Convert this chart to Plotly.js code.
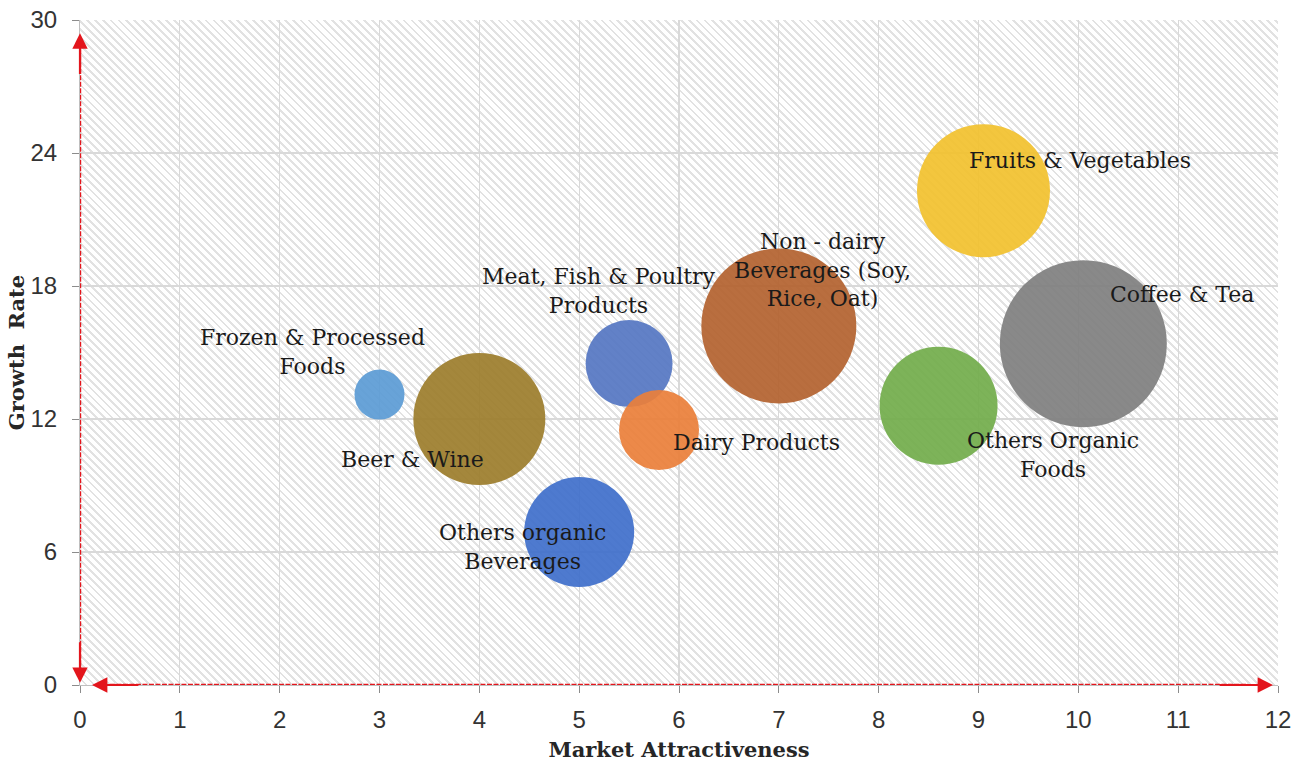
<!DOCTYPE html>
<html>
<head>
<meta charset="utf-8">
<script src="https://cdn.plot.ly/plotly-3.0.1.min.js"></script>
<style>
  html, body { margin: 0; padding: 0; background: #ffffff; }
  #wrap { position: relative; width: 1307px; height: 768px; }
  #hatch {
    position: absolute; left: 80px; top: 20px; width: 1198px; height: 665px;
    background: repeating-linear-gradient(45deg, #ffffff 0px, #ffffff 3.6px, #e2e2e2 3.6px, #e2e2e2 5.6px);
  }
  #chart { position: absolute; left: 0; top: 0; width: 1307px; height: 768px; }
</style>
</head>
<body>
<div id="wrap"><div id="hatch"></div><div id="chart"></div></div>
<script>
// ---- data ----
const categories = [
  "Frozen & Processed<br>Foods",
  "Beer & Wine",
  "Meat, Fish & Poultry<br>Products",
  "Dairy Products",
  "Others organic<br>Beverages",
  "Non - dairy<br>Beverages (Soy,<br>Rice, Oat)",
  "Fruits & Vegetables",
  "Coffee & Tea",
  "Others Organic<br>Foods"
];
const marketAttractiveness = [3.0, 4.0, 5.5, 5.8, 5.0, 7.0, 9.05, 10.05, 8.6];
const growthRate = [13.1, 12.0, 14.5, 11.5, 6.9, 16.2, 22.3, 15.4, 12.6];
const marketSize = [50, 132, 87, 80, 110, 155, 133, 167, 118];
const xTicks = [0, 1, 2, 3, 4, 5, 6, 7, 8, 9, 10, 11, 12];
const yTicks = [0, 6, 12, 18, 24, 30];

// ---- styles ----
const colors = ["#5B9BD5", "#9C7D2B", "#5576C2", "#EA7F3A", "#3F6FCB",
                "#B3622F", "#F2C12E", "#7F7F7F", "#72AC4B"];
const labelShift = [[-67, 43], [-67, -40], [-30, 73], [97, -12], [-57, -15],
                    [44, 56], [97, 30], [99, 49], [114, -49]];

const serif = "DejaVu Serif, serif";

const trace = {
  type: "scatter",
  mode: "markers",
  x: marketAttractiveness,
  y: growthRate,
  text: categories,
  hoverinfo: "text",
  marker: {
    size: marketSize,
    sizemode: "diameter",
    sizeref: 1,
    color: colors,
    opacity: 0.92,
    line: { width: 0 }
  },
  showlegend: false
};

const annotations = categories.map((c, i) => ({
  x: marketAttractiveness[i],
  y: growthRate[i],
  xref: "x", yref: "y",
  text: c,
  showarrow: false,
  xshift: labelShift[i][0],
  yshift: labelShift[i][1],
  font: { family: serif, size: 22, color: "#1a1a1a" },
  align: "center"
}));

// red axis arrowheads
const red = "#E3151C";
annotations.push(
  { x: 0, y: 29.4, ax: 0, ay: 27.5, xref: "x", yref: "y", axref: "x", ayref: "y",
    showarrow: true, arrowhead: 2, arrowsize: 1.4, arrowwidth: 2.2, arrowcolor: red, text: "" },
  { x: 0, y: 0.1, ax: 0, ay: 2, xref: "x", yref: "y", axref: "x", ayref: "y",
    showarrow: true, arrowhead: 2, arrowsize: 1.4, arrowwidth: 2.2, arrowcolor: red, text: "" },
  { x: 0.12, y: 0, ax: 0.6, ay: 0, xref: "x", yref: "y", axref: "x", ayref: "y",
    showarrow: true, arrowhead: 2, arrowsize: 1.4, arrowwidth: 2.2, arrowcolor: red, text: "" },
  { x: 11.95, y: 0, ax: 11.4, ay: 0, xref: "x", yref: "y", axref: "x", ayref: "y",
    showarrow: true, arrowhead: 2, arrowsize: 1.4, arrowwidth: 2.2, arrowcolor: red, text: "" }
);

const shapes = [
  { type: "line", xref: "x", yref: "y", x0: 0, x1: 0, y0: 0.3, y1: 29,
    line: { color: red, width: 2.4, dash: "5px,1.5px" } },
  { type: "line", xref: "x", yref: "y", x0: 0.3, x1: 11.7, y0: 0, y1: 0,
    line: { color: red, width: 2.4, dash: "5px,1.5px" } }
];

const tickFont = { family: "Liberation Sans, Arial, sans-serif", size: 24, color: "#333333" };

const layout = {
  width: 1307, height: 768,
  margin: { l: 80, r: 29, t: 20, b: 83 },
  paper_bgcolor: "rgba(0,0,0,0)",
  plot_bgcolor: "rgba(0,0,0,0)",
  xaxis: {
    range: [0, 12],
    tickvals: xTicks,
    ticktext: xTicks.map(String),
    showgrid: true, gridcolor: "#d9d9d9", gridwidth: 1.2,
    zeroline: false,
    showline: true, linecolor: "#bfbfbf", linewidth: 1, mirror: false,
    ticks: "outside", ticklen: 7, tickcolor: "#8c8c8c",
    ticklabelstandoff: 6,
    tickfont: tickFont,
    title: { text: "<b>Market Attractiveness</b>", standoff: 10,
             font: { family: serif, size: 21, color: "#262626" } },
    fixedrange: true
  },
  yaxis: {
    range: [0, 30],
    tickvals: yTicks,
    ticktext: yTicks.map(String),
    showgrid: true, gridcolor: "#d9d9d9", gridwidth: 1.2,
    zeroline: false,
    showline: true, linecolor: "#bfbfbf", linewidth: 1,
    ticks: "outside", ticklen: 7, tickcolor: "#8c8c8c",
    ticklabelstandoff: 10,
    tickfont: tickFont,
    title: { text: "<b>Growth  Rate</b>", standoff: 0,
             font: { family: serif, size: 21, color: "#262626" } },
    fixedrange: true
  },
  shapes: shapes,
  annotations: annotations,
  showlegend: false
};

Plotly.newPlot("chart", [trace], layout, { displayModeBar: false, staticPlot: true });
</script>
</body>
</html>
